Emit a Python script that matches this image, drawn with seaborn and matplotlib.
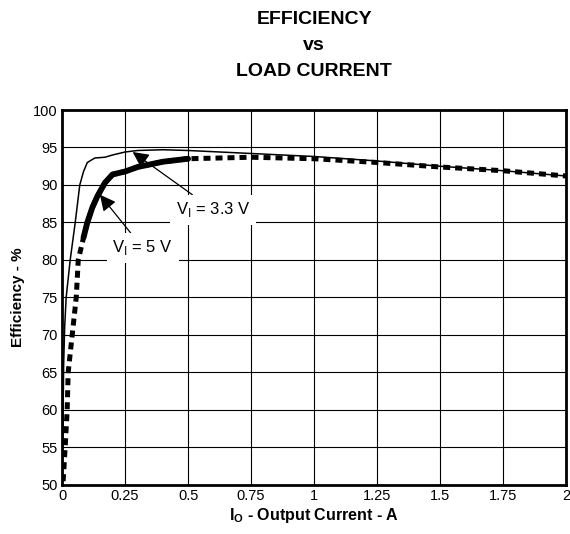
import numpy as np
import pandas as pd
import matplotlib
matplotlib.use('Agg')
import matplotlib.pyplot as plt
import seaborn as sns

sns.set_style('white')
plt.rcParams['font.family'] = ['Liberation Sans', 'DejaVu Sans']
plt.rcParams['mathtext.fontset'] = 'custom'
plt.rcParams['mathtext.rm'] = 'Liberation Sans'
plt.rcParams['mathtext.bf'] = 'Liberation Sans:bold'
plt.rcParams['font.size'] = 10
plt.rcParams['text.color'] = 'black'
plt.rcParams['axes.labelcolor'] = 'black'
plt.rcParams['xtick.color'] = 'black'
plt.rcParams['ytick.color'] = 'black'

# V_I = 3.3 V curve
x_33 = [0, 0.003, 0.006, 0.01, 0.016, 0.024, 0.032, 0.052, 0.07, 0.085, 0.1,
        0.13, 0.17, 0.2, 0.25, 0.3, 0.4, 0.5, 0.75, 1.0, 1.25, 1.5, 1.75, 2.0]
eff_33 = [50, 57, 66, 71, 75, 77.5, 80, 85, 90, 91.8, 93,
          93.6, 93.7, 94.0, 94.4, 94.6, 94.7, 94.6, 94.2, 93.8, 93.2, 92.5, 91.9, 91.2]

# V_I = 5 V curve
x_5 = [0.004, 0.012, 0.02, 0.024, 0.04, 0.056, 0.064, 0.085, 0.1, 0.12, 0.14,
       0.17, 0.2, 0.25, 0.3, 0.4, 0.5, 0.75, 1.0, 1.25, 1.5, 1.75, 2.0]
eff_5 = [50.5, 55, 60, 65, 70, 75, 80, 83, 85, 87, 88.5,
         90.3, 91.4, 91.8, 92.4, 93.1, 93.5, 93.7, 93.5, 93.0, 92.4, 91.9, 91.2]

x_ticks = [0, 0.25, 0.5, 0.75, 1, 1.25, 1.5, 1.75, 2]
x_labels = ['0', '0.25', '0.5', '0.75', '1', '1.25', '1.5', '1.75', '2']
y_ticks = [50, 55, 60, 65, 70, 75, 80, 85, 90, 95, 100]

df33 = pd.DataFrame({'x': x_33, 'eff': eff_33})
df5 = pd.DataFrame({'x': x_5, 'eff': eff_5})
df5_solid = df5[(df5['x'] >= 0.085) & (df5['x'] <= 0.5)]

fig = plt.figure(figsize=(5.7, 5.34), dpi=100)
ax = fig.add_axes([0.109, 0.092, 0.884, 0.702])

sns.lineplot(data=df5, x='x', y='eff', ax=ax, color='black', linewidth=3.6,
             dashes=False, linestyle=(0, (1.4, 1.0)), solid_capstyle='butt')
sns.lineplot(data=df5_solid, x='x', y='eff', ax=ax, color='black', linewidth=4.2)
sns.lineplot(data=df33, x='x', y='eff', ax=ax, color='black', linewidth=1.1)

ax.set_xlim(0, 2)
ax.set_ylim(50, 100)
ax.set_xticks(x_ticks)
ax.set_xticklabels(x_labels)
ax.set_yticks(y_ticks)
ax.grid(True, color='black', linewidth=0.8)
ax.tick_params(axis='both', length=0, labelsize=10.5, pad=3)
for s in ax.spines.values():
    s.set_color('black')
    s.set_linewidth(2)

ax.set_xlabel(r'I$_\mathbf{O}$ - Output Current - A', fontsize=11.5, fontweight='bold', labelpad=2)
ax.set_ylabel('Efficiency - %', fontsize=11, fontweight='bold', labelpad=6)

box = dict(facecolor='white', edgecolor='none', pad=4)
arrow = dict(arrowstyle='-|>', color='black', lw=0.9, mutation_scale=24, shrinkA=0, shrinkB=0)
ax.annotate(r'V$_\mathregular{I}$ = 3.3 V', xy=(0.28, 94.4), xytext=(0.6, 86.7),
            ha='center', va='center', fontsize=12, bbox=box, arrowprops=arrow)
ax.annotate(r'V$_\mathregular{I}$ = 5 V', xy=(0.15, 88.7), xytext=(0.32, 81.6),
            ha='center', va='center', fontsize=12, bbox=box, arrowprops=arrow)

cx = 0.109 + 0.884 / 2
fig.text(cx, 1 - 19 / 534, 'EFFICIENCY', ha='center', va='center', fontsize=14, fontweight='bold')
fig.text(cx, 1 - 46 / 534, 'vs', ha='center', va='center', fontsize=14, fontweight='bold')
fig.text(cx, 1 - 72 / 534, 'LOAD CURRENT', ha='center', va='center', fontsize=14, fontweight='bold')

fig.savefig('out.png', dpi=100)
